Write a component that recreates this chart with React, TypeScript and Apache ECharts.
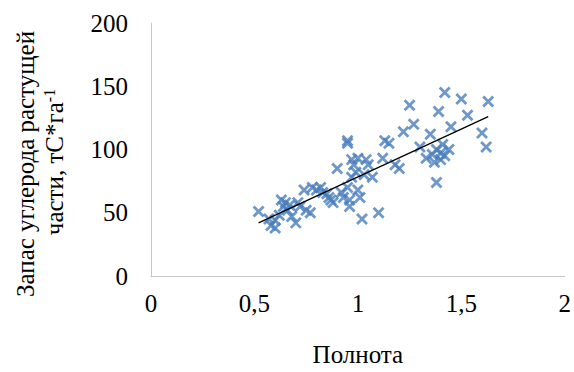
import React, { useEffect, useRef } from "react";
import * as echarts from "echarts";

const fullness: number[] = [
  0.52, 0.57, 0.58, 0.6, 0.6, 0.62, 0.63, 0.64, 0.65, 0.66, 0.67, 0.68, 0.7, 0.71, 0.72,
  0.74, 0.75, 0.77, 0.78, 0.8, 0.82, 0.83, 0.85, 0.86, 0.87, 0.88, 0.9, 0.92, 0.93, 0.95,
  0.95, 0.95, 0.96, 0.96, 0.97, 0.97, 0.98, 0.99, 1.0, 1.0, 1.01, 1.02, 1.03, 1.04, 1.05,
  1.07, 1.1, 1.12, 1.13, 1.15, 1.18, 1.2, 1.22, 1.25, 1.27, 1.3, 1.33, 1.35, 1.36, 1.37,
  1.38, 1.38, 1.39, 1.4, 1.4, 1.41, 1.42, 1.42, 1.44, 1.45, 1.5, 1.53, 1.6, 1.62, 1.63,
];
const carbon: number[] = [
  51, 45, 40, 38, 44, 48, 60, 55, 58, 52, 56, 47, 42, 58, 55,
  68, 52, 50, 70, 68, 70, 66, 65, 62, 60, 58, 85, 66, 62, 107,
  105, 70, 55, 60, 92, 78, 88, 82, 93, 68, 62, 45, 80, 92, 88,
  78, 50, 93, 107, 105, 88, 85, 114, 135, 120, 102, 93, 112, 96, 90,
  100, 74, 130, 92, 97, 104, 145, 95, 100, 118, 140, 127, 113, 102, 138,
];
const xTicks = [0, 0.5, 1, 1.5, 2];
const yTicks = [0, 50, 100, 150, 200];

function linearFit(xs: number[], ys: number[]) {
  const n = xs.length;
  const mx = xs.reduce((a, b) => a + b, 0) / n;
  const my = ys.reduce((a, b) => a + b, 0) / n;
  let sxy = 0;
  let sxx = 0;
  for (let i = 0; i < n; i++) {
    sxy += (xs[i] - mx) * (ys[i] - my);
    sxx += (xs[i] - mx) * (xs[i] - mx);
  }
  const slope = sxy / sxx;
  return { slope, intercept: my - slope * mx };
}

export default function App() {
  const ref = useRef<HTMLDivElement>(null);
  useEffect(() => {
    if (!ref.current) return;
    const chart = echarts.init(ref.current, undefined, { renderer: "svg" });
    const fit = linearFit(fullness, carbon);
    const xmin = Math.min(...fullness);
    const xmax = Math.max(...fullness);
    const font = "'Liberation Serif', 'Times New Roman', serif";
    const fs = 25;
    chart.setOption({
      animation: false,
      grid: { left: 151, right: 7, top: 23, bottom: 93 },
      xAxis: {
        type: "value",
        min: xTicks[0],
        max: xTicks[xTicks.length - 1],
        interval: 0.5,
        axisLine: { show: true, lineStyle: { color: "#c8c8c8", width: 1 } },
        axisTick: { show: false },
        splitLine: { show: false },
        axisLabel: {
          margin: 15,
          fontFamily: font,
          fontSize: fs,
          color: "#000",
          formatter: (v: number) => String(v).replace(".", ","),
        },
        name: "Полнота",
        nameLocation: "middle",
        nameGap: 66,
        nameTextStyle: { fontFamily: font, fontSize: fs, color: "#000" },
      },
      yAxis: {
        type: "value",
        min: yTicks[0],
        max: yTicks[yTicks.length - 1],
        interval: 50,
        axisLine: { show: true, lineStyle: { color: "#c8c8c8", width: 1 } },
        axisTick: { show: false },
        splitLine: { show: false },
        axisLabel: { margin: 23, fontFamily: font, fontSize: fs, color: "#000" },
      },
      graphic: [
        {
          type: "text",
          x: 25,
          y: 164,
          rotation: Math.PI / 2,
          style: {
            text: "Запас углерода растущей",
            font: `${fs}px ${font}`,
            fill: "#000",
            align: "center",
            verticalAlign: "middle",
          },
        },
        {
          type: "text",
          x: 54,
          y: 162,
          rotation: Math.PI / 2,
          style: {
            text: "{n|части, тС*га}{s|-1}",
            align: "center",
            verticalAlign: "middle",
            rich: {
              n: { font: `${fs}px ${font}`, fill: "#000" },
              s: { font: `16px ${font}`, fill: "#000", verticalAlign: "top", padding: [0, 0, 10, 0] },
            },
          },
        },
      ],
      series: [
        {
          type: "scatter",
          data: fullness.map((x, i) => [x, carbon[i]]),
          symbol: "path://M0,0 L10,10 M10,0 L0,10",
          symbolSize: 10,
          itemStyle: { color: "rgba(0,0,0,0)", borderColor: "#4a7ebb", borderWidth: 2.8 },
          z: 2,
        },
        {
          type: "line",
          data: [
            [xmin, fit.intercept + fit.slope * xmin],
            [xmax, fit.intercept + fit.slope * xmax],
          ],
          showSymbol: false,
          symbol: "none",
          lineStyle: { color: "#000", width: 1.3 },
          z: 3,
        },
      ],
    });
    return () => chart.dispose();
  }, []);
  return (
    <div
      ref={ref}
      style={{ position: "absolute", left: 0, top: 0, width: 574, height: 372 }}
    />
  );
}
